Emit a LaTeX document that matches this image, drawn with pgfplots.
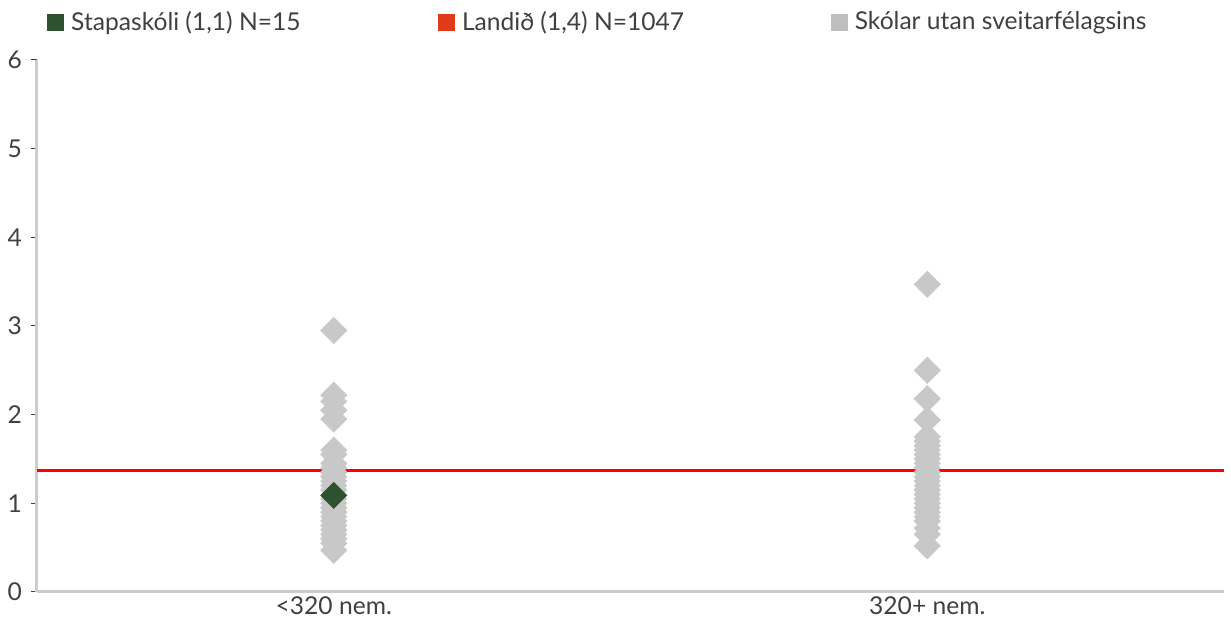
\documentclass[border=0pt]{standalone}
\usepackage{pgfplots}
\pgfplotsset{compat=1.18}
\usepackage{fontspec}
\setmainfont{Lato}
\definecolor{sgreen}{HTML}{2E5130}
\definecolor{lred}{HTML}{E03A1A}
\definecolor{sgrey}{HTML}{C8C8C8}
\definecolor{lgrey}{HTML}{BFBFBF}
\definecolor{axgrey}{HTML}{CCCCCC}
\definecolor{txt}{HTML}{404040}
\begin{document}
\begin{tikzpicture}
\useasboundingbox (-18.5pt,-16pt) rectangle (597pt,296pt);
\begin{axis}[
  at={(0,0)}, anchor=south west,
  scale only axis, width=593.5pt, height=266pt,
  xmin=-0.5, xmax=1.5, ymin=0, ymax=6,
  axis x line*=bottom, axis y line*=left,
  axis line style={axgrey, line width=1.5pt, -},
  xtick={0,1}, xticklabels={{<320 nem.},{320+ nem.}},
  x tick style={draw=none},
  ytick={0,1,2,3,4,5,6},
  y tick style={txt, line width=0.5pt},
  tick align=outside, major tick length=3pt,
  tick label style={font=\fontsize{12.3}{14}\selectfont, text=txt},
  /pgf/number format/assume math mode=true,
  yticklabel style={xshift=-1pt},
  xticklabel style={yshift=2pt, inner sep=1pt},
  clip=false,
  legend columns=3,
  legend style={draw=none, fill=none, at={(0,1)}, anchor=west, xshift=5pt, yshift=19pt,
    font=\fontsize{12.3}{14}\selectfont, text=txt, inner sep=0pt,
    /tikz/every even column/.append style={column sep=0pt}},
  legend cell align=left,
]
\addlegendimage{legend image code/.code={\fill[sgreen] (0pt,-4pt) rectangle (8pt,4pt);}}
\addlegendentry{\hspace*{1.5pt}\makebox[181.5pt][l]{Stapaskóli (1,1) N=15}}
\addlegendimage{legend image code/.code={\fill[lred] (0pt,-4pt) rectangle (8pt,4pt);}}
\addlegendentry{\hspace*{1.5pt}\makebox[182.5pt][l]{Landið (1,4) N=1047}}
\addlegendimage{legend image code/.code={\fill[lgrey] (0pt,-4pt) rectangle (8pt,4pt);}}
\addlegendentry{\hspace*{1.5pt}Skólar utan sveitarfélagsins}

\addplot[red, line width=1.5pt, forget plot] coordinates {(-0.5,1.37) (1.5,1.37)};

\addplot[only marks, mark=square*, mark size=4.6pt, mark options={rotate=45, fill=sgrey, draw=sgrey}, forget plot] coordinates {
(0,2.95) (0,2.22) (0,2.15) (0,2.05) (0,1.95) (0,1.60) (0,1.55) (0,1.45) (0,1.40) (0,1.35)
(0,1.30) (0,1.25) (0,1.20) (0,1.15) (0,1.05) (0,1.00) (0,0.95) (0,0.90) (0,0.85) (0,0.80)
(0,0.75) (0,0.70) (0,0.65) (0,0.60) (0,0.55) (0,0.47)
(1,3.47) (1,2.50) (1,2.18) (1,1.94) (1,1.75) (1,1.70) (1,1.65) (1,1.60) (1,1.55) (1,1.50)
(1,1.45) (1,1.40) (1,1.35) (1,1.30) (1,1.25) (1,1.20) (1,1.15) (1,1.10) (1,1.05) (1,1.00)
(1,0.95) (1,0.90) (1,0.85) (1,0.80) (1,0.72) (1,0.65) (1,0.52)
};
\addplot[only marks, mark=square*, mark size=4.6pt, mark options={rotate=45, fill=sgreen, draw=sgreen}, forget plot] coordinates {(0,1.09)};
\end{axis}
\end{tikzpicture}
\end{document}
